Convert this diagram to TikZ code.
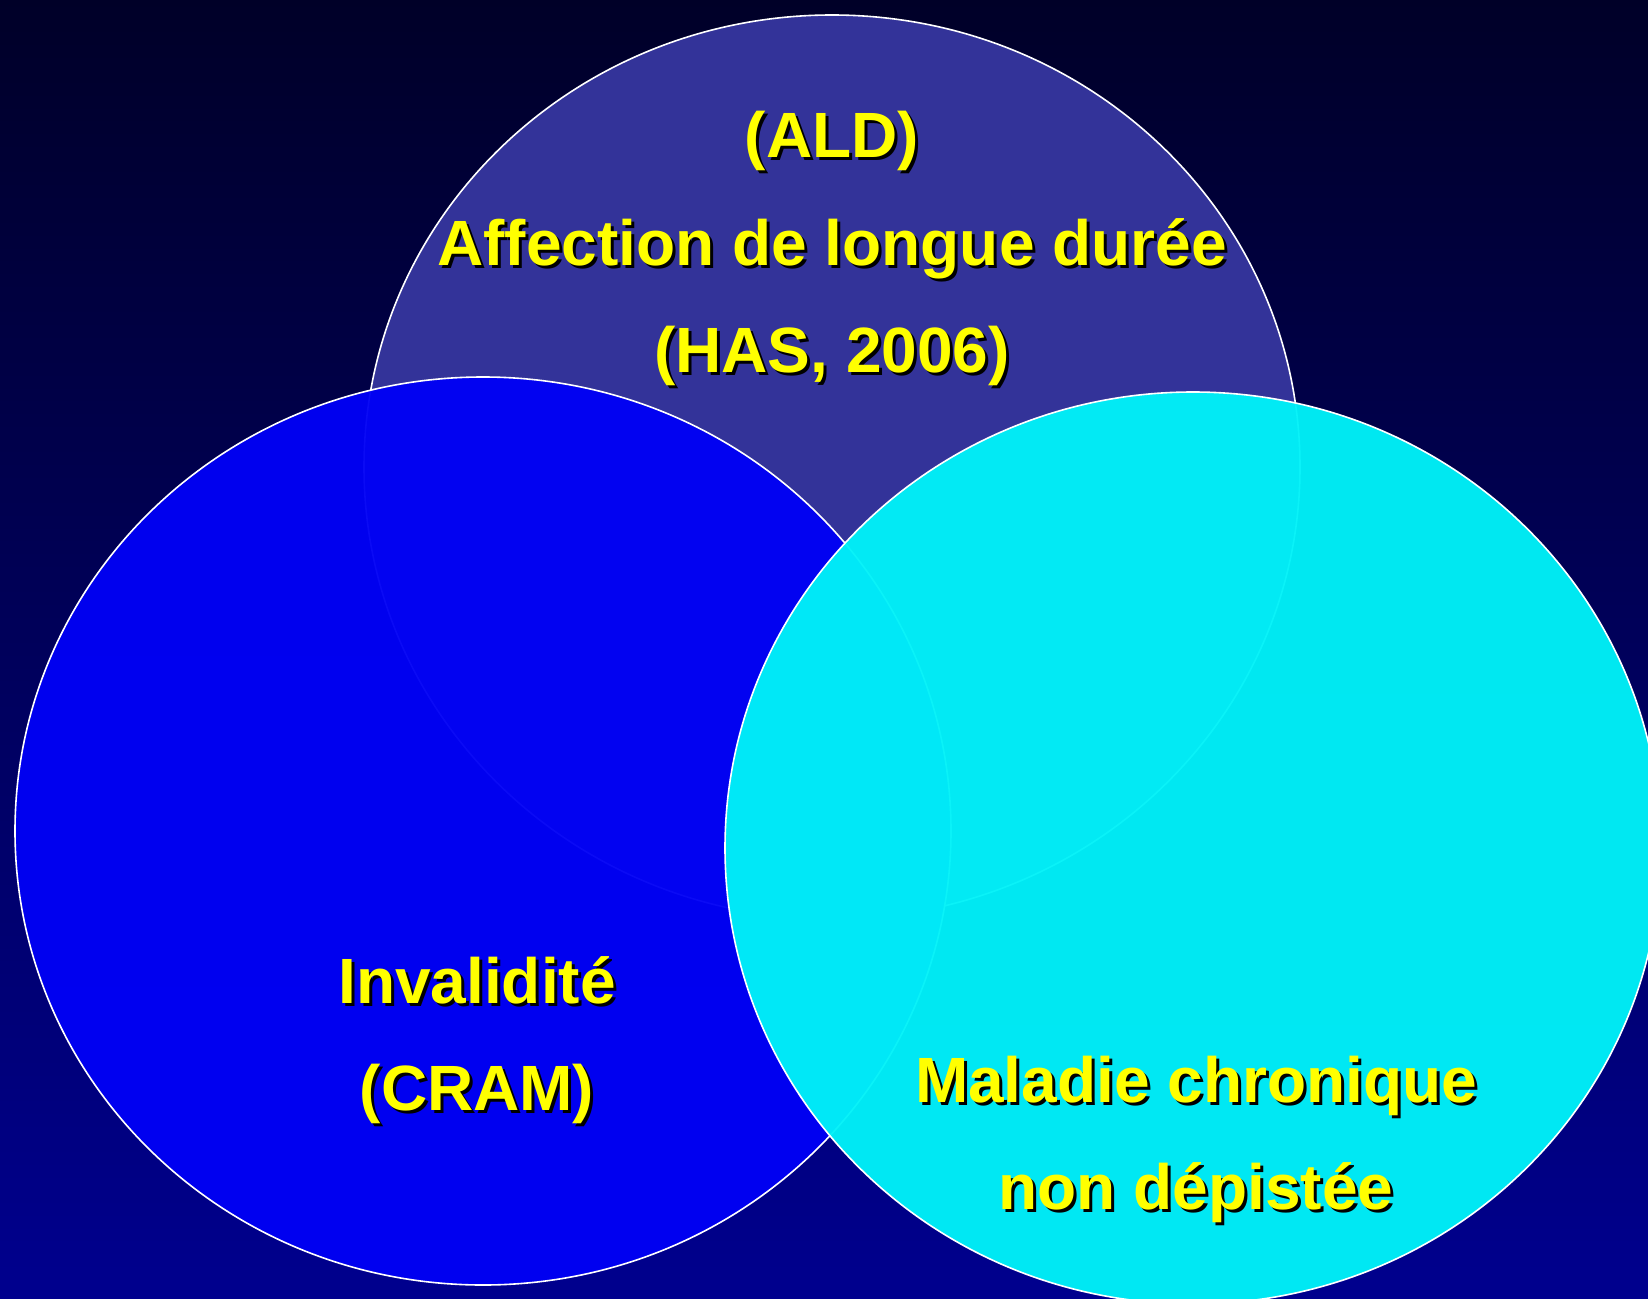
\documentclass[tikz,border=0pt]{standalone}
\usepackage{fontspec}
\setmainfont{Liberation Sans}
\usetikzlibrary{calc}
\definecolor{bgtop}{RGB}{0,0,40}
\definecolor{bgbot}{RGB}{0,0,142}
\definecolor{aldfill}{RGB}{51,51,153}
\definecolor{invfill}{RGB}{0,0,245}
\definecolor{malfill}{RGB}{0,242,248}
\definecolor{txtyellow}{RGB}{255,255,0}
\tikzset{
  venn/.style={draw=white, line width=1.6pt},
  lbl/.style={font=\fontsize{64}{76}\selectfont\bfseries, text=txtyellow, anchor=base, inner sep=0pt},
  lblshadow/.style={lbl, text=black},
}
\begin{document}
\begin{tikzpicture}[x=1pt,y=-1pt]
\useasboundingbox (0,0) rectangle (1648,1298);
\clip (0,0) rectangle (1648,1298);
\shade[top color=bgtop, bottom color=bgbot] (0,0) rectangle (1648,1298);
% circles
\path[venn, fill=aldfill] (832,467) ellipse [x radius=468, y radius=452];
\path[venn, fill=invfill, fill opacity=0.96] (483,831) ellipse [x radius=468, y radius=454];
\path[venn, fill=malfill, fill opacity=0.96] (1193,848) ellipse [x radius=468, y radius=456];
% ALD labels
\node[lblshadow] (ald1s) at (835,160) {(ALD)};
\node[lbl] (ald1) at (832,157) {(ALD)};
\node[lblshadow] (ald2s) at (835,268) {Affection de longue durée};
\node[lbl] (ald2) at (832,265) {Affection de longue durée};
\node[lblshadow] (ald3s) at (835,375) {(HAS, 2006)};
\node[lbl] (ald3) at (832,372) {(HAS, 2006)};
% Invalidite labels
\node[lblshadow] (inv1s) at (480,1006) {Invalidité};
\node[lbl] (inv1) at (477,1003) {Invalidité};
\node[lblshadow] (inv2s) at (480,1113) {(CRAM)};
\node[lbl] (inv2) at (477,1110) {(CRAM)};
% Maladie labels
\node[lblshadow] (mal1s) at (1199,1105) {Maladie chronique};
\node[lbl] (mal1) at (1196,1102) {Maladie chronique};
\node[lblshadow] (mal2s) at (1199,1212) {non dépistée};
\node[lbl] (mal2) at (1196,1209) {non dépistée};
\end{tikzpicture}
\end{document}
